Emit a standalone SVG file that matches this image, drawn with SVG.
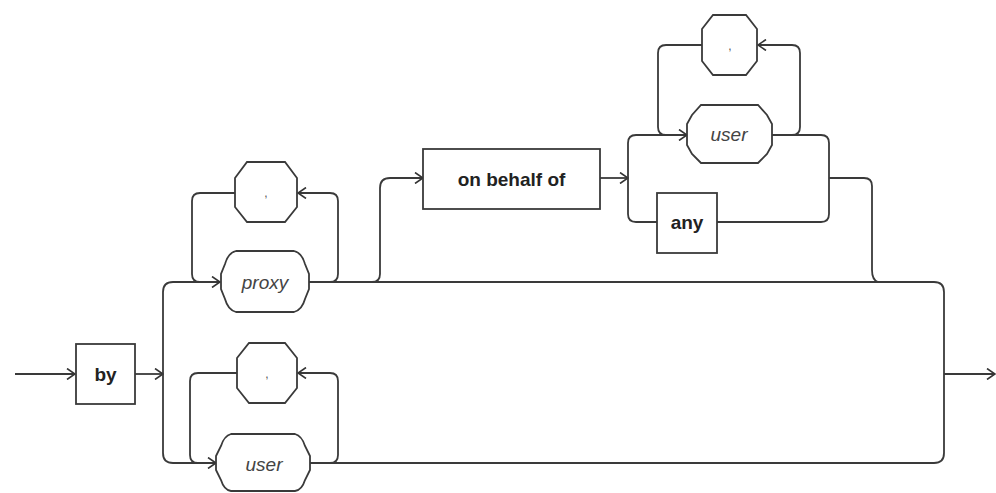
<svg xmlns="http://www.w3.org/2000/svg" width="996" height="493" viewBox="0 0 996 493">
  <defs>
    <marker id="arr" viewBox="0 0 10 12" refX="9" refY="6" markerWidth="10" markerHeight="12" markerUnits="userSpaceOnUse" orient="auto">
      <path d="M1,0.5 L9,6 L1,11.5" fill="none" stroke="#333" stroke-width="1.6"/>
    </marker>
  </defs>
  <style>
    .ln { fill: none; stroke: #3a3a3a; stroke-width: 1.8; }
    .box { fill: #fff; stroke: #3a3a3a; stroke-width: 1.8; }
    .kw { font-family: "Liberation Sans", Arial, sans-serif; font-size: 19px; font-weight: bold; fill: #222; text-anchor: middle; }
    .var { font-family: "Liberation Sans", Arial, sans-serif; font-size: 19px; font-style: italic; fill: #444; text-anchor: middle; }
    .sep { font-family: "Liberation Sans", Arial, sans-serif; font-size: 12px; fill: #555; text-anchor: middle; }
  </style>
  <rect width="996" height="493" fill="#fff"/>

  <g id="connectors">
    <!-- entry and keyword -->
    <path class="ln" d="M15,374 H75" marker-end="url(#arr)"/>
    <path class="ln" d="M135,374 H163" marker-end="url(#arr)"/>
    <!-- split into proxy / user branches -->
    <path class="ln" d="M163,374 V292 Q163,282 173,282 H220" marker-end="url(#arr)"/>
    <path class="ln" d="M163,374 V453 Q163,463 173,463 H216" marker-end="url(#arr)"/>
    <!-- proxy repetition loop -->
    <path class="ln" d="M330,282 Q338,282 338,274 V201 Q338,193 330,193 H298" marker-end="url(#arr)"/>
    <path class="ln" d="M235,193 H200 Q192,193 192,201 V274 Q192,282 200,282"/>
    <!-- proxy line, right rail and bottom return -->
    <path class="ln" d="M309,282 H934 Q944,282 944,292 V453 Q944,463 934,463 H310"/>
    <path class="ln" d="M944,374 H995" marker-end="url(#arr)"/>
    <!-- user repetition loop (lower) -->
    <path class="ln" d="M330,463 Q338,463 338,455 V381 Q338,373 330,373 H298" marker-end="url(#arr)"/>
    <path class="ln" d="M237,373 H198 Q190,373 190,381 V455 Q190,463 198,463"/>
    <!-- optional "on behalf of" clause -->
    <path class="ln" d="M372,282 Q380,282 380,274 V188 Q380,178 390,178 H423" marker-end="url(#arr)"/>
    <path class="ln" d="M600,178 H628" marker-end="url(#arr)"/>
    <!-- user / any choice -->
    <path class="ln" d="M628,178 V143 Q628,135 636,135 H687" marker-end="url(#arr)"/>
    <path class="ln" d="M628,178 V214 Q628,222 636,222 H657"/>
    <path class="ln" d="M702,45 H666 Q658,45 658,53 V127 Q658,135 666,135"/>
    <path class="ln" d="M772,135 H792 Q800,135 800,127 V53 Q800,45 792,45 H758" marker-end="url(#arr)"/>
    <path class="ln" d="M772,135 H821 Q829,135 829,143 V214 Q829,222 821,222 H717"/>
    <path class="ln" d="M829,178 H864 Q872,178 872,186 V270 Q872,280 878,282"/>
  </g>

  <g id="node-by">
    <rect class="box" x="76" y="344" width="59" height="60"/>
    <text class="kw" x="105.5" y="381">by</text>
  </g>

  <g id="node-proxy">
    <path class="box" d="M236,251 H294 Q302,253 305,264 L309,274 V289 L305,299 Q302,310 294,312 H236 Q228,310 225,299 L221,289 V274 L225,264 Q228,253 236,251 Z"/>
    <text class="var" x="265" y="289">proxy</text>
  </g>

  <g id="node-comma-proxy">
    <path class="box" d="M247,162 H285 L297,178 V207 L285,222 H247 L235,207 V178 Z"/>
    <text class="sep" x="266" y="197">,</text>
  </g>

  <g id="node-user-lower">
    <path class="box" d="M231,434 H295 Q302,436 305,446 L310,456 V470 L305,480 Q302,490 295,491 H231 Q224,490 221,480 L216,470 V456 L221,446 Q224,436 231,434 Z"/>
    <text class="var" x="264" y="471">user</text>
  </g>

  <g id="node-comma-user-lower">
    <path class="box" d="M249,343 H285 L297,358 V388 L285,403 H249 L237,388 V358 Z"/>
    <text class="sep" x="267" y="378">,</text>
  </g>

  <g id="node-on-behalf-of">
    <rect class="box" x="423" y="149" width="177" height="60"/>
    <text class="kw" x="511.5" y="186">on behalf of</text>
  </g>

  <g id="node-user-upper">
    <path class="box" d="M701,105 H758 L767,115 L772,124 V145 L767,154 L758,163 H701 L692,154 L687,145 V124 L692,115 Z"/>
    <text class="var" x="729" y="141">user</text>
  </g>

  <g id="node-comma-user-upper">
    <path class="box" d="M713,15 H746 L757,29 V61 L746,75 H713 L702,61 V29 Z"/>
    <text class="sep" x="730" y="50">,</text>
  </g>

  <g id="node-any">
    <rect class="box" x="657" y="193" width="60" height="60"/>
    <text class="kw" x="687" y="229">any</text>
  </g>
</svg>
